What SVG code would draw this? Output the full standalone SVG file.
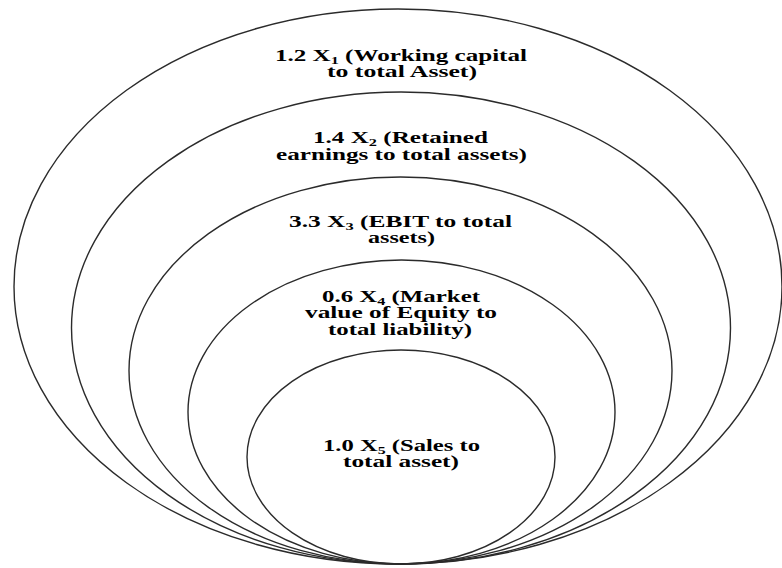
<svg xmlns="http://www.w3.org/2000/svg" width="782" height="568" viewBox="0 0 782 568">
<style>
.ring{fill:none;stroke:#2b2b2b;stroke-width:1.4}
.lbl{font-family:"Liberation Serif","Times New Roman",serif;font-weight:bold;font-size:17px;fill:#000;text-anchor:middle}
.sub{font-size:11px}
</style>
<rect width="782" height="568" fill="#fff"/>
<g id="ring1">
<ellipse class="ring" cx="398" cy="286.5" rx="384" ry="277.5"/>
<text class="lbl" x="401" y="61" textLength="252" lengthAdjust="spacingAndGlyphs">1.2 X<tspan class="sub" dy="3">1</tspan><tspan dy="-3"> (Working capital</tspan></text>
<text class="lbl" x="402" y="77" textLength="150" lengthAdjust="spacingAndGlyphs">to total Asset)</text>
</g>
<g id="ring2">
<ellipse class="ring" cx="401" cy="328" rx="329.5" ry="236"/>
<text class="lbl" x="400.5" y="143" textLength="175" lengthAdjust="spacingAndGlyphs">1.4 X<tspan class="sub" dy="3">2</tspan><tspan dy="-3"> (Retained</tspan></text>
<text class="lbl" x="401.5" y="160" textLength="251" lengthAdjust="spacingAndGlyphs">earnings to total assets)</text>
</g>
<g id="ring3">
<ellipse class="ring" cx="400.5" cy="370.5" rx="271.5" ry="193.5"/>
<text class="lbl" x="400.5" y="227" textLength="223" lengthAdjust="spacingAndGlyphs">3.3 X<tspan class="sub" dy="3">3</tspan><tspan dy="-3"> (EBIT to total</tspan></text>
<text class="lbl" x="401.5" y="243" textLength="67" lengthAdjust="spacingAndGlyphs">assets)</text>
</g>
<g id="ring4">
<ellipse class="ring" cx="401.5" cy="412" rx="213.5" ry="152"/>
<text class="lbl" x="401" y="302" textLength="158" lengthAdjust="spacingAndGlyphs">0.6 X<tspan class="sub" dy="3">4</tspan><tspan dy="-3"> (Market</tspan></text>
<text class="lbl" x="401" y="318" textLength="192" lengthAdjust="spacingAndGlyphs">value of Equity to</text>
<text class="lbl" x="400" y="335" textLength="144" lengthAdjust="spacingAndGlyphs">total liability)</text>
</g>
<g id="ring5">
<ellipse class="ring" cx="401" cy="457" rx="154" ry="107"/>
<text class="lbl" x="401.5" y="451" textLength="157" lengthAdjust="spacingAndGlyphs">1.0 X<tspan class="sub" dy="3">5</tspan><tspan dy="-3"> (Sales to</tspan></text>
<text class="lbl" x="401" y="467" textLength="116" lengthAdjust="spacingAndGlyphs">total asset)</text>
</g>
<g id="connectors"/>
</svg>
